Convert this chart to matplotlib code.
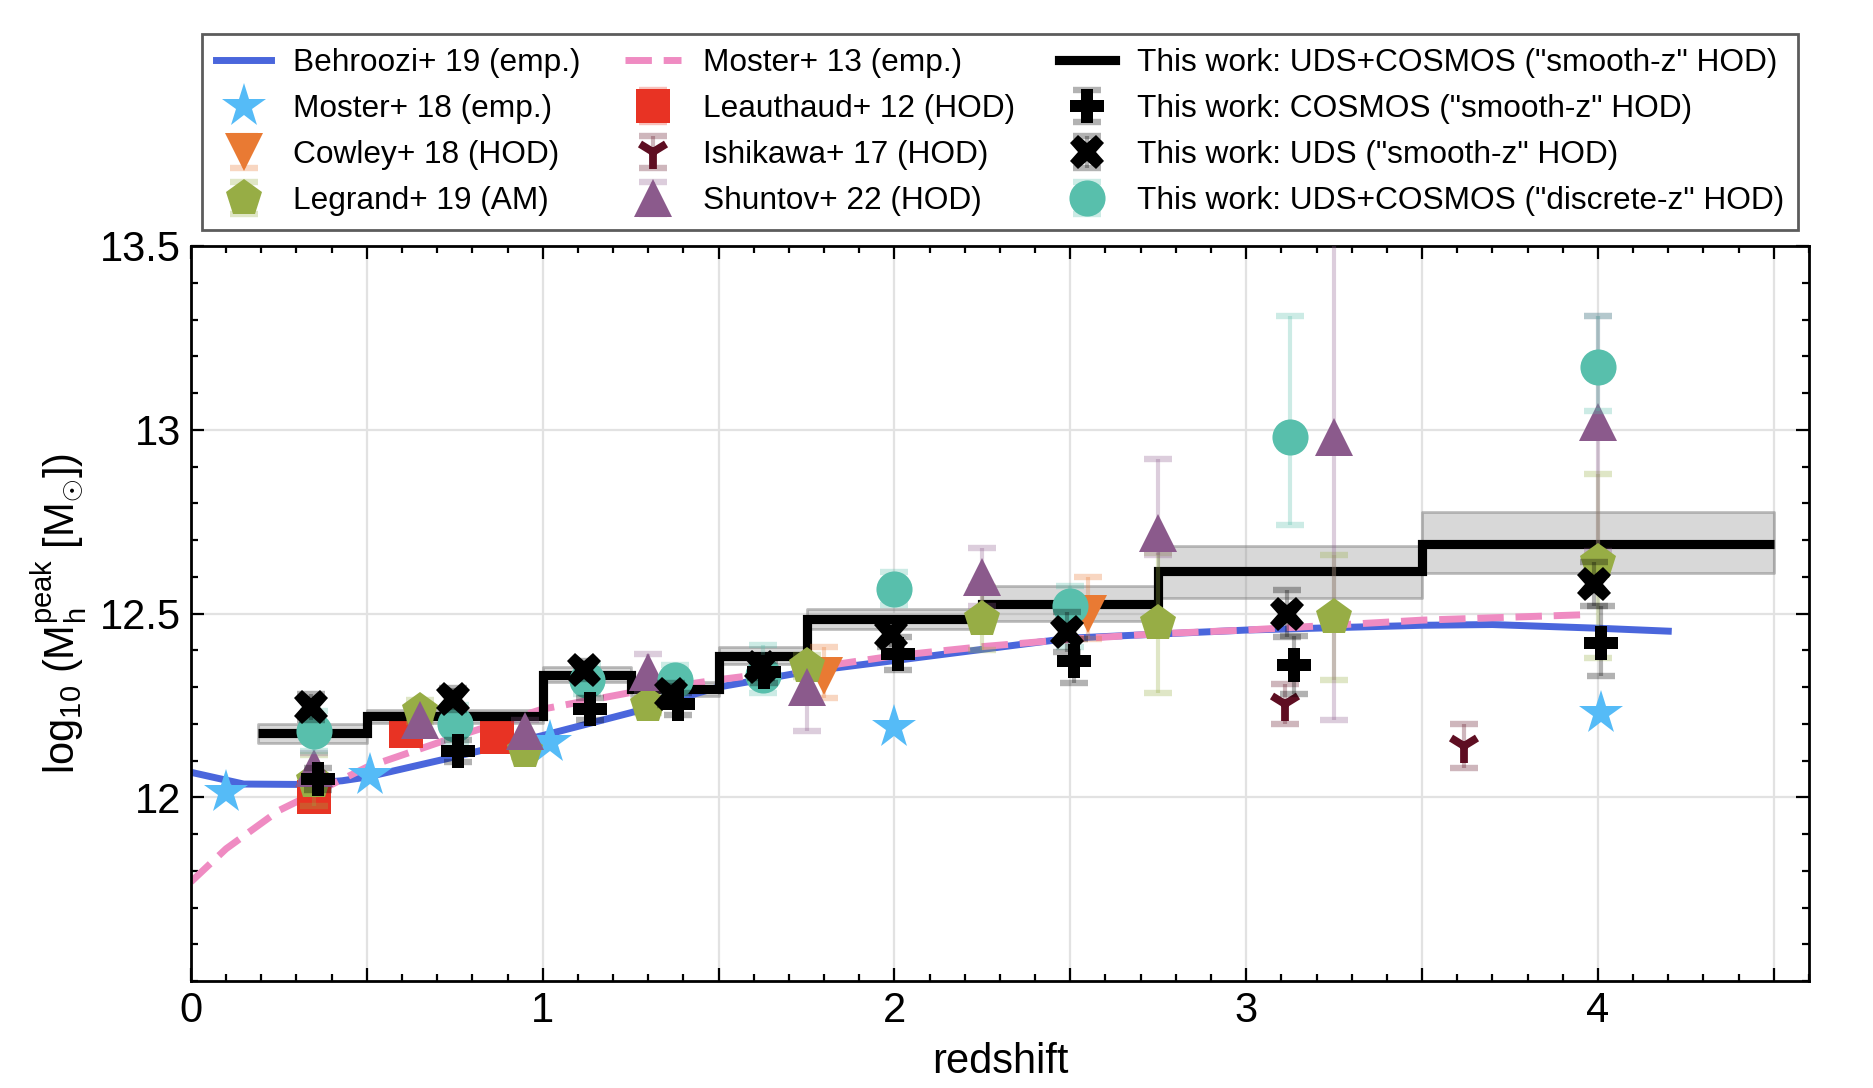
import matplotlib
matplotlib.use("Agg")
import matplotlib.pyplot as plt
from matplotlib.colors import to_rgba
from matplotlib.ticker import MultipleLocator

plt.rcParams['font.family'] = ['Liberation Sans', 'DejaVu Sans']
plt.rcParams['mathtext.fontset'] = 'custom'
plt.rcParams['mathtext.rm'] = 'Liberation Sans'
plt.rcParams['mathtext.it'] = 'Liberation Sans:italic'

# ---- data ----
# Behroozi+19 curve
beh_z = [0.0, 0.15, 0.3, 0.43, 0.5, 0.75, 1.0, 1.25, 1.5, 1.75, 2.0, 2.5, 3.0, 3.5, 3.7, 4.0, 4.2]
beh_m = [12.068, 12.036, 12.035, 12.045, 12.055, 12.11, 12.168, 12.23, 12.30, 12.342, 12.372,
         12.433, 12.455, 12.468, 12.47, 12.46, 12.452]

# Moster+13 curve
mo13_z = [0.0, 0.1, 0.25, 0.5, 0.75, 1.0, 1.25, 1.5, 1.75, 2.0, 2.25, 2.5, 2.75, 3.0, 3.5, 3.97]
mo13_m = [11.77, 11.86, 11.964, 12.082, 12.164, 12.24, 12.285, 12.32, 12.35, 12.385, 12.41, 12.43,
          12.445, 12.455, 12.482, 12.497]

# Moster+18
mo18_z = [0.1, 0.51, 1.02, 2.0, 4.01]
mo18_m = [12.014, 12.06, 12.15, 12.19, 12.228]

# Cowley+18
cow_z = [1.8, 2.55]
cow_m = [12.33, 12.50]
cow_lo = [0.06, 0.07]
cow_hi = [0.08, 0.10]

# Legrand+19
leg_z = [0.35, 0.65, 0.95, 1.3, 1.75, 2.25, 2.75, 3.25, 4.0]
leg_m = [12.045, 12.236, 12.125, 12.25, 12.356, 12.486, 12.474, 12.49, 12.64]
leg_lo = [0.07, 0.03, 0.015, 0.02, 0.03, 0.085, 0.19, 0.17, 0.26]
leg_hi = [0.07, 0.03, 0.015, 0.02, 0.03, 0.085, 0.19, 0.17, 0.24]

# Leauthaud+12
lea_z = [0.35, 0.61, 0.87]
lea_m = [12.0, 12.18, 12.165]
lea_err = [0.01, 0.01, 0.01]

# Ishikawa+17
ish_z = [3.11, 3.62]
ish_m = [12.253, 12.14]
ish_err = [0.054, 0.06]

# Shuntov+22
shu_z = [0.35, 0.65, 0.95, 1.3, 1.75, 2.25, 2.75, 3.25, 4.0]
shu_m = [12.08, 12.21, 12.18, 12.34, 12.30, 12.60, 12.72, 12.98, 13.02]
shu_lo = [0.04, 0.04, 0.03, 0.05, 0.12, 0.08, 0.06, 0.77, 0.35]
shu_hi = [0.04, 0.04, 0.03, 0.05, 0.06, 0.077, 0.20, 0.55, 0.29]

# This work: UDS+COSMOS smooth-z HOD (step)
step_edges = [0.19, 0.5, 1.0, 1.25, 1.5, 1.75, 2.25, 2.75, 3.5, 4.5]
step_m = [12.175, 12.222, 12.333, 12.295, 12.385, 12.486, 12.526, 12.616, 12.69]
step_lo = [12.147, 12.203, 12.313, 12.275, 12.362, 12.458, 12.48, 12.541, 12.61]
step_hi = [12.200, 12.238, 12.355, 12.315, 12.41, 12.513, 12.575, 12.685, 12.775]

# This work: COSMOS
cos_z = [0.36, 0.76, 1.135, 1.385, 1.63, 2.01, 2.51, 3.135, 4.01]
cos_m = [12.05, 12.125, 12.24, 12.255, 12.34, 12.39, 12.37, 12.36, 12.42]
cos_lo = [0.03, 0.03, 0.03, 0.03, 0.03, 0.045, 0.06, 0.08, 0.09]
cos_hi = [0.03, 0.03, 0.03, 0.03, 0.03, 0.045, 0.06, 0.08, 0.10]

# This work: UDS
uds_z = [0.34, 0.745, 1.118, 1.365, 1.62, 1.99, 2.49, 3.115, 3.99]
uds_m = [12.245, 12.268, 12.347, 12.28, 12.355, 12.445, 12.449, 12.50, 12.58]
uds_err = [0.035, 0.03, 0.025, 0.03, 0.03, 0.035, 0.055, 0.065, 0.06]

# This work: discrete-z HOD
dis_z = [0.35, 0.75, 1.125, 1.375, 1.625, 2.0, 2.5, 3.125, 4.0]
dis_m = [12.18, 12.20, 12.32, 12.32, 12.333, 12.568, 12.52, 12.98, 13.17]
dis_lo = [0.055, 0.05, 0.04, 0.04, 0.05, 0.045, 0.11, 0.24, 0.12]
dis_hi = [0.055, 0.05, 0.04, 0.04, 0.08, 0.045, 0.055, 0.33, 0.14]

fig = plt.figure(figsize=(9.37, 5.44), dpi=200)
ax = fig.add_axes([0.1019, 0.0983, 0.8634, 0.6756])

ebkw = dict(linestyle='none', capsize=5, capthick=2.3, elinewidth=1.5)


def eb(x, y, err, c, marker, ms, label, z, mew=0):
    cont = ax.errorbar(x, y, yerr=err, fmt=marker, color=c, ecolor=to_rgba(c, 0.3),
                       markersize=ms, label=label, zorder=z, **ebkw)
    cont.lines[0].set_markeredgewidth(mew)
    return cont


# smooth-z bands
for i in range(len(step_m)):
    ax.fill_between([step_edges[i], step_edges[i + 1]], step_lo[i], step_hi[i],
                    facecolor=to_rgba('grey', 0.3), edgecolor=to_rgba('grey', 0.5), lw=1, zorder=1)

h_beh, = ax.plot(beh_z, beh_m, color='#4a66dc', lw=2.5, zorder=2, label='Behroozi+ 19 (emp.)')
h_mo13, = ax.plot(mo13_z, mo13_m, color='#ef8bc2', lw=2.5, ls=(0, (3.8, 1.7)), zorder=2,
                  label='Moster+ 13 (emp.)')

h_lea = eb(lea_z, lea_m, lea_err, '#e83324', 's', 12.5, 'Leauthaud+ 12 (HOD)', 3)

ax.stairs(step_m, step_edges, baseline=None, color='black', lw=3.3, zorder=4)
h_step_leg, = ax.plot([], [], color='black', lw=3.3)

h_mo18, = ax.plot(mo18_z, mo18_m, '*', color='#55bbf7', ms=16.5, mew=0, zorder=5,
                  label='Moster+ 18 (emp.)')
h_cow = eb(cow_z, cow_m, [cow_lo, cow_hi], '#e97a33', 'v', 14, 'Cowley+ 18 (HOD)', 5)
h_leg = eb(leg_z, leg_m, [leg_lo, leg_hi], '#97ad45', 'p', 14, 'Legrand+ 19 (AM)', 5)
h_ish = eb(ish_z, ish_m, ish_err, '#5e0e22', '1', 12, 'Ishikawa+ 17 (HOD)', 5, mew=2.8)
h_shu = eb(shu_z, shu_m, [shu_lo, shu_hi], '#8b5a8c', '^', 14, 'Shuntov+ 22 (HOD)', 5)
h_dis = eb(dis_z, dis_m, [dis_lo, dis_hi], '#58bfac', 'o', 13, 'This work: UDS+COSMOS ("discrete-z" HOD)', 6)
h_cos = eb(cos_z, cos_m, [cos_lo, cos_hi], 'black', 'P', 12.5, 'This work: COSMOS ("smooth-z" HOD)', 7)
h_uds = eb(uds_z, uds_m, uds_err, 'black', 'X', 12.5, 'This work: UDS ("smooth-z" HOD)', 7)

handles = [h_beh, h_mo18, h_cow, h_leg, h_mo13, h_lea, h_ish, h_shu, h_step_leg, h_cos, h_uds, h_dis]
labels = ['Behroozi+ 19 (emp.)', 'Moster+ 18 (emp.)', 'Cowley+ 18 (HOD)', 'Legrand+ 19 (AM)',
          'Moster+ 13 (emp.)', 'Leauthaud+ 12 (HOD)', 'Ishikawa+ 17 (HOD)', 'Shuntov+ 22 (HOD)',
          'This work: UDS+COSMOS ("smooth-z" HOD)', 'This work: COSMOS ("smooth-z" HOD)',
          'This work: UDS ("smooth-z" HOD)', 'This work: UDS+COSMOS ("discrete-z" HOD)']

leg = ax.legend(handles, labels, ncol=3, loc='lower center', bbox_to_anchor=(0.5, 1.0),
                fontsize=11.4, frameon=True, fancybox=False, edgecolor='#333333',
                handlelength=1.75, handletextpad=0.7, columnspacing=1.4, labelspacing=0.5,
                borderpad=0.45)
leg.get_frame().set_linewidth(1.0)

ax.set_xlim(0, 4.6)
ax.set_ylim(11.5, 13.5)
ax.xaxis.set_major_locator(MultipleLocator(0.5))
ax.xaxis.set_minor_locator(MultipleLocator(0.1))
ax.yaxis.set_major_locator(MultipleLocator(0.5))
ax.yaxis.set_minor_locator(MultipleLocator(0.1))
ax.set_xticklabels(['' if abs(t - round(t)) > 1e-6 else '%d' % round(t) for t in ax.get_xticks()])
ax.set_yticks([12, 12.5, 13, 13.5])
ax.set_yticklabels(['12', '12.5', '13', '13.5'])
ax.tick_params(which='both', direction='in', top=True, right=True, labelsize=15, width=0.8)
ax.tick_params(which='major', length=4.7)
ax.tick_params(which='minor', length=2.5)
ax.grid(True, which='major', color='#e2e2e2', lw=0.8, zorder=0)
ax.set_axisbelow(True)
for s in ax.spines.values():
    s.set_linewidth(1.0)

ax.set_xlabel('redshift', fontsize=15, labelpad=4)
ax.set_ylabel(r'log$_{10}$ (M$_{\rm h}^{\rm peak}$ [M$_{\odot}$])', fontsize=15)

fig.savefig('out.png', dpi=200)
